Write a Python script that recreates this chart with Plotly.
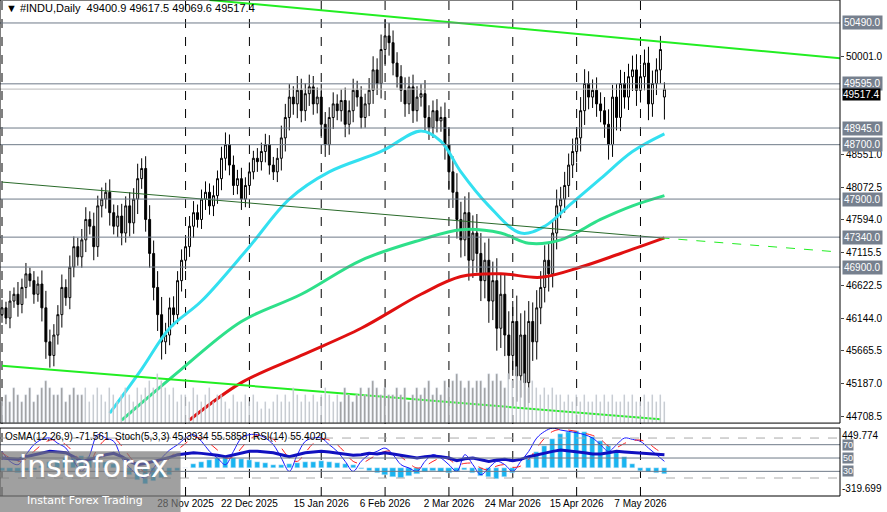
import pandas as pd
import plotly.graph_objects as go

# daily closes, #INDU
close = [46300, 46150, 46400, 46500, 46350, 46600, 46800, 46700, 46500, 46650,
         46300, 45800, 45600, 45900, 46200, 46600, 46450, 46900, 47200, 47050,
         47300, 47600, 47500, 47200, 47800, 47900, 48000, 47700, 47500, 47650,
         47400, 47800, 47550, 47900, 48200, 48350, 47600, 47100, 46600, 46200,
         45800, 45900, 46300, 46200, 46700, 47000, 47200, 47500, 47700, 47600,
         47900, 48000, 47800, 47950, 48200, 48500, 48700, 48400, 48100, 48200,
         47900, 48100, 48300, 48500, 48450, 48600, 48700, 48400, 48300, 48500,
         48800, 49100, 49400, 49300, 49500, 49200, 49450, 49550, 49300, 49400,
         49000, 48700, 49100, 49300, 49200, 49350, 49000, 49200, 49500, 49400,
         49100, 49300, 49500, 49800, 49600, 50100, 50300, 50200, 49900, 49700,
         49500, 49300, 49550, 49200, 49400, 49450, 49100, 48950, 49200, 49050,
         49100, 48700, 48300, 48000, 47600, 47300, 47700, 47000, 47400, 47100,
         46700, 47000, 46400, 46700, 46000, 46500, 45900, 45600, 46100, 45300,
         45900, 45200, 46100, 45800, 46300, 46600, 47000, 46800, 47400, 47800,
         47900, 48100, 48400, 48600, 48800, 49200, 49600, 49400, 49500, 49300,
         49200, 49000, 48700, 49400, 49100, 49600, 49400, 49700, 49800, 49500,
         49700, 49900, 49300, 49600, 49800, 50100, 49517.4]
open_ = [46200] + close[:-1]
open_[-1] = 49400.9
wick = [120, 90, 150, 100, 180, 130, 160, 90, 140, 110,
        200, 250, 180, 160, 140, 190, 120, 170, 150, 130,
        160, 180, 120, 200, 150, 170, 140, 190, 120, 160,
        180, 140, 200, 160, 220, 150, 180, 210, 190, 240,
        260, 180, 150, 170, 140, 160, 130, 150, 170, 120,
        140, 160, 130, 150, 120, 170, 180, 150, 140, 130,
        160, 120, 140, 110, 150, 130, 160, 140, 120, 150,
        180, 200, 190, 160, 210, 170, 150, 180, 160, 140,
        200, 180, 150, 170, 140, 160, 190, 150, 170, 140,
        160, 150, 180, 200, 170, 220, 240, 190, 180, 160,
        170, 190, 150, 180, 160, 140, 200, 180, 150, 170,
        160, 220, 250, 230, 280, 260, 240, 300, 260, 280,
        300, 260, 320, 280, 330, 290, 310, 350, 300, 380,
        320, 360, 300, 280, 260, 240, 220, 260, 200, 240,
        180, 200, 170, 190, 160, 200, 210, 180, 160, 190,
        170, 200, 220, 180, 190, 200, 170, 190, 210, 230,
        180, 200, 240, 190, 170, 200, 260]
high = [max(o, c) + w for o, c, w in zip(open_, close, wick)]
low = [min(o, c) - w for o, c, w in zip(open_, close, wick)]
high[-1], low[-1] = 49617.5, 49069.6

volume = [3, 4, 3, 5, 4, 3, 4, 5, 3, 4, 5, 6, 5, 4, 4, 5, 3, 4, 5, 4,
          4, 5, 3, 4, 5, 4, 3, 5, 4, 3, 4, 5, 4, 3, 5, 4, 5, 6, 5, 7,
          6, 5, 4, 5, 3, 4, 4, 3, 5, 4, 3, 4, 5, 3, 4, 4, 3, 2, 4, 3,
          3, 4, 3, 4, 3, 2, 3, 2, 3, 4, 3, 4, 3, 5, 4, 3, 4, 3, 4, 3,
          4, 5, 4, 3, 4, 3, 5, 4, 3, 4, 5, 4, 5, 6, 5, 4, 5, 4, 4, 5,
          4, 5, 3, 4, 5, 4, 5, 6, 4, 5, 4, 6, 5, 6, 7, 6, 5, 6, 5, 6,
          6, 5, 7, 6, 7, 6, 5, 7, 6, 8, 6, 7, 5, 6, 5, 4, 5, 4, 5, 4,
          4, 3, 4, 3, 4, 3, 4, 3, 3, 4, 3, 4, 3, 4, 3, 3, 4, 3, 4, 3,
          3, 4, 3, 4, 3, 4, 3]

# moving averages, sampled (bar index, value)
ma_fast_x = [27, 35, 42, 50, 62, 72, 82, 95, 105, 110, 115, 122, 130, 136, 142, 150, 158, 166]
ma_fast = [44750, 45400, 46000, 46400, 47200, 47900, 48300, 48600, 48900, 48750, 48300, 47800, 47400, 47500, 47800, 48200, 48600, 48860]
ma_mid_x = [30, 45, 60, 75, 90, 105, 115, 125, 132, 140, 150, 158, 166]
ma_mid = [44650, 45400, 46100, 46500, 47000, 47300, 47450, 47400, 47250, 47300, 47600, 47800, 47950]
ma_slow_x = [47, 60, 75, 90, 105, 115, 125, 135, 145, 155, 166]
ma_slow = [44650, 45200, 45600, 46000, 46500, 46760, 46800, 46750, 46900, 47100, 47330]

levels = [50490.0, 49595.0, 48945.0, 48700.0, 47900.0, 47340.0, 46900.0]
price_ticks = [50001.0, 48551.0, 48072.5, 47594.0, 47115.5, 46622.5, 46144.0, 45665.5, 45187.0, 44708.5]

# oscillators, every 2nd bar
osc_x = list(range(0, 167, 2))
osma = [-40, -50, -60, -40, -30, 20, 60, 90, 110, 120, 130, 125, 100, 70, 40, 0, -80, -140,
        -180, -150, -120, -80, -40, 0, 40, 70, 90, 110, 120, 110, 100, 85, 70, 50, 30, 35,
        40, 50, 60, 70, 80, 65, 50, 40, 30, -10, -40, -60, -80, -100, -120, -90, -70, -50,
        -40, -50, -60, -45, -30, -60, -90, -110, -130, -100, -60, 0, 100, 180, 250, 320, 380,
        410, 420, 400, 350, 300, 250, 180, 120, 40, -40, -50, -60, -70]
stoch_k = [60, 45, 40, 55, 70, 78, 80, 72, 65, 45, 30, 55, 85, 80, 75, 50, 35, 25, 20, 35,
           50, 62, 70, 80, 85, 75, 60, 50, 40, 60, 80, 85, 85, 80, 70, 50, 30, 55, 75, 80,
           80, 70, 60, 45, 30, 45, 55, 60, 65, 55, 40, 35, 30, 45, 55, 50, 40, 30, 55, 40,
           25, 35, 45, 40, 30, 45, 60, 80, 90, 95, 92, 90, 88, 85, 80, 70, 60, 70, 80, 78,
           75, 65, 55, 45]
stoch_d = [58, 50, 45, 48, 60, 70, 77, 76, 70, 58, 45, 45, 65, 78, 80, 68, 52, 38, 28, 28,
           38, 50, 62, 72, 80, 80, 72, 62, 50, 52, 65, 78, 84, 83, 78, 65, 50, 45, 58, 72,
           79, 77, 70, 58, 45, 42, 48, 55, 60, 60, 52, 42, 35, 38, 45, 50, 48, 40, 42, 42,
           35, 32, 38, 40, 36, 38, 48, 65, 80, 90, 93, 92, 90, 87, 84, 78, 68, 66, 72, 76,
           77, 72, 63, 56]
rsi = [50, 49, 48, 52, 55, 58, 60, 59, 58, 52, 45, 48, 52, 55, 57, 52, 45, 40, 42, 45,
       47, 51, 55, 57, 58, 57, 56, 54, 52, 55, 58, 60, 60, 59, 58, 55, 52, 55, 58, 59,
       60, 59, 57, 55, 54, 55, 57, 56, 58, 56, 54, 53, 50, 52, 53, 52, 50, 46, 49, 50,
       47, 45, 47, 48, 46, 48, 52, 55, 58, 60, 62, 61, 60, 58, 56, 56, 58, 60, 59, 58,
       57, 57, 56, 55]

tick_dates = ["2025-09-23", "2025-11-28", "2025-12-22", "2026-01-15", "2026-02-06",
              "2026-03-02", "2026-03-24", "2026-04-15", "2026-05-07"]

dates = pd.bdate_range(end="2026-05-15", periods=len(close))
idx = list(range(len(close)))
tick_idx = list(dates.get_indexer(pd.to_datetime(tick_dates), method="nearest"))
tick_text = [pd.Timestamp(d).strftime("%-d %b %Y") for d in tick_dates]

FONT = "Liberation Sans"
fig = go.Figure()

# volume on its own hidden axis in the bottom of the main panel
fig.add_trace(go.Bar(x=idx, y=volume, marker_color="#9a9a9a", width=0.35,
                     yaxis="y4", showlegend=False))

fig.add_trace(go.Candlestick(
    x=idx, open=open_, high=high, low=low, close=close,
    increasing=dict(line=dict(color="black", width=1), fillcolor="white"),
    decreasing=dict(line=dict(color="black", width=1), fillcolor="black"),
    whiskerwidth=0, showlegend=False))

fig.add_trace(go.Scatter(x=ma_fast_x, y=ma_fast, mode="lines", line=dict(color="#33e0f0", width=3, shape="spline"), showlegend=False))
fig.add_trace(go.Scatter(x=ma_mid_x, y=ma_mid, mode="lines", line=dict(color="#2ee08a", width=3, shape="spline"), showlegend=False))
fig.add_trace(go.Scatter(x=ma_slow_x, y=ma_slow, mode="lines", line=dict(color="#e01010", width=3, shape="spline"), showlegend=False))

# trend channels
fig.add_trace(go.Scatter(x=[52, 210], y=[50828, 49970], mode="lines", line=dict(color="#22ee22", width=2), showlegend=False))
fig.add_trace(go.Scatter(x=[0, 165], y=[48150, 47330], mode="lines", line=dict(color="#2a6a2a", width=1), showlegend=False))
fig.add_trace(go.Scatter(x=[165, 210], y=[47330, 47120], mode="lines", line=dict(color="#22ee22", width=1, dash="dash"), showlegend=False))
fig.add_trace(go.Scatter(x=[0, 165], y=[45450, 44660], mode="lines", line=dict(color="#22ee22", width=2), showlegend=False))

# bottom panel
fig.add_trace(go.Bar(x=osc_x, y=osma, marker_color="#19b4f0", width=1.3, yaxis="y2", showlegend=False))
fig.add_trace(go.Scatter(x=osc_x, y=stoch_k, mode="lines", line=dict(color="#1a1aff", width=1, shape="spline"), yaxis="y3", showlegend=False))
fig.add_trace(go.Scatter(x=osc_x, y=stoch_d, mode="lines", line=dict(color="#ff2020", width=1, dash="dash", shape="spline"), yaxis="y3", showlegend=False))
fig.add_trace(go.Scatter(x=osc_x, y=rsi, mode="lines", line=dict(color="#1010c0", width=3), yaxis="y3", showlegend=False))

shapes = []
annotations = []
for lv in levels:
    shapes.append(dict(type="line", xref="paper", x0=0, x1=1, yref="y", y0=lv, y1=lv, line=dict(color="#6f7a88", width=1)))
    annotations.append(dict(xref="paper", x=1.0, xanchor="left", xshift=2, yref="y", y=lv, text="%.1f" % lv, showarrow=False,
                            bgcolor="#76808e", font=dict(color="white", size=10, family=FONT), borderpad=1))
shapes.append(dict(type="line", xref="paper", x0=0, x1=1, yref="y", y0=close[-1], y1=close[-1], line=dict(color="#bbbbbb", width=1)))
annotations.append(dict(xref="paper", x=1.0, xanchor="left", xshift=2, yref="y", y=close[-1], yshift=-5, text="49517.4", showarrow=False,
                        bgcolor="black", font=dict(color="white", size=10, family=FONT), borderpad=0))
for lv, dash in [(80, "dash"), (70, "solid"), (50, "solid"), (30, "solid"), (20, "dash")]:
    shapes.append(dict(type="line", xref="paper", x0=0, x1=1, yref="y3", y0=lv, y1=lv,
                       line=dict(color="#aaaaaa" if dash == "dash" else "#6f7a88", width=1, dash=dash)))
for t in tick_idx:
    shapes.append(dict(type="line", xref="x", x0=t, x1=t, yref="paper", y0=0, y1=1, line=dict(color="black", width=1, dash="dash"), layer="below"))
# panel frames
shapes.append(dict(type="rect", xref="paper", x0=0, x1=1, yref="paper", y0=0.147, y1=1, line=dict(color="black", width=1)))
shapes.append(dict(type="rect", xref="paper", x0=0, x1=1, yref="paper", y0=0, y1=0.137, line=dict(color="black", width=1)))
# watermark
shapes.append(dict(type="rect", xref="paper", x0=-0.01, x1=0.215, yref="paper", y0=-0.04, y1=0.09,
                   fillcolor="rgba(120,120,120,0.7)", line=dict(width=0)))

annotations += [
    dict(xref="paper", yref="paper", x=0.005, y=0.999, xanchor="left", yanchor="top", showarrow=False,
         text="▼ #INDU,Daily  49400.9 49617.5 49069.6 49517.4", font=dict(size=11, color="black", family=FONT)),
    dict(xref="paper", yref="paper", x=0.003, y=0.136, xanchor="left", yanchor="top", showarrow=False,
         text="OsMA(12,26,9) -71.561  Stoch(5,3,3) 45.3934 55.5858  RSI(14) 55.4020", font=dict(size=10, color="black", family=FONT)),
    dict(xref="paper", yref="paper", x=0.02, y=0.06, xanchor="left", yanchor="middle", showarrow=False,
         text="instaforex", font=dict(size=30, color="white", family="DejaVu Sans")),
    dict(xref="paper", yref="paper", x=0.03, y=-0.01, xanchor="left", yanchor="middle", showarrow=False,
         text="Instant Forex Trading", font=dict(size=11, color="white", family="DejaVu Sans")),
    dict(xref="paper", yref="paper", x=1.0, y=0.137, xanchor="left", yanchor="top", showarrow=False,
         text="449.774", font=dict(size=10, color="black", family=FONT)),
    dict(xref="paper", yref="paper", x=1.0, y=0.0, xanchor="left", yanchor="bottom", showarrow=False,
         text="-319.699", font=dict(size=10, color="black", family=FONT)),
]
for lv in [70, 50, 30]:
    annotations.append(dict(xref="paper", x=1.0, xanchor="left", xshift=2, yref="y3", y=lv, text=str(lv), showarrow=False,
                            bgcolor="#76808e", font=dict(color="white", size=9, family=FONT), borderpad=0))

fig.update_layout(
    width=887, height=512,
    margin=dict(l=0, r=47, t=0, b=16),
    paper_bgcolor="white", plot_bgcolor="white",
    font=dict(family=FONT, size=10, color="black"),
    bargap=0,
    xaxis=dict(range=[-0.5, 210], tickvals=tick_idx, ticktext=tick_text, showgrid=False, tickangle=0,
               rangeslider=dict(visible=False), ticks="", tickfont=dict(size=10), zeroline=False, anchor="y2"),
    yaxis=dict(domain=[0.147, 1], range=[44605, 50828], side="right", tickvals=price_ticks,
               ticktext=["%.1f" % v for v in price_ticks], showgrid=False, ticks="outside", ticklen=3, zeroline=False,
               tickfont=dict(size=10)),
    yaxis4=dict(domain=[0.147, 1], range=[0, 60], overlaying="y", visible=False),
    yaxis2=dict(domain=[0, 0.137], range=[-319.699, 449.774], showticklabels=False, showgrid=False, zeroline=False),
    yaxis3=dict(domain=[0, 0.137], range=[-7, 95], overlaying="y2", visible=False),
    shapes=shapes, annotations=annotations,
)

fig.write_html("out.html", config={"displayModeBar": False},
               post_script="document.body.style.margin='0';document.body.style.overflow='hidden';")
